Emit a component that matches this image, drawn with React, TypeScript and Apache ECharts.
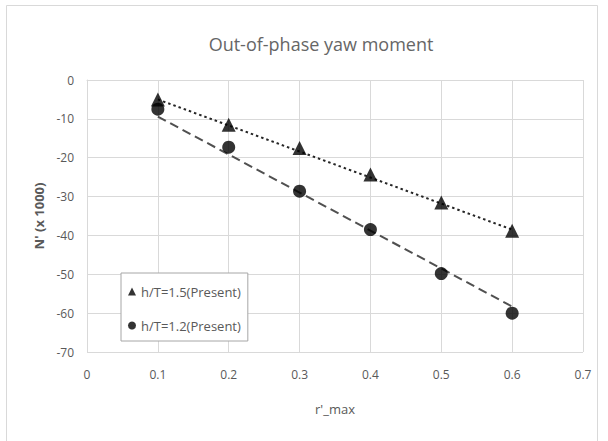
import React, { useEffect, useRef } from "react";
import * as echarts from "echarts";

const xValues = [0.1, 0.2, 0.3, 0.4, 0.5, 0.6];
const seriesA = [-5, -11.5, -17.5, -24.3, -31.5, -38.8]; // h/T=1.5
const seriesB = [-7.5, -17.3, -28.6, -38.5, -49.8, -60]; // h/T=1.2
const trendAX = [0.1, 0.6];
const trendA = [-5, -38.5];
const trendBX = [0.1, 0.6];
const trendB = [-9.4, -58.3];
const nameA = "h/T=1.5(Present)";
const nameB = "h/T=1.2(Present)";

const FONT = "'Open Sans', 'Noto Sans', sans-serif";
const GRAY = "#595959";

export default function App() {
  const ref = useRef<HTMLDivElement>(null);
  useEffect(() => {
    const chart = echarts.init(ref.current!, undefined, { renderer: "svg" });
    chart.setOption({
      animation: false,
      backgroundColor: "#fff",
      textStyle: { fontFamily: FONT },
      title: {
        text: "Out-of-phase yaw moment",
        left: 316,
        top: 30,
        textAlign: "center",
        textStyle: { fontFamily: FONT, fontSize: 18, fontWeight: "normal", color: "#666" },
      },
      graphic: [
        {
          type: "rect",
          shape: { x: 6.5, y: 5.5, width: 591, height: 440 },
          style: { fill: "none", stroke: "#d9d9d9", lineWidth: 1 },
          silent: true,
          z: -1,
        },
      ],
      grid: { left: 87, top: 80, right: 25, bottom: 89 },
      legend: {
        orient: "vertical",
        left: 121,
        top: 273,
        data: [
          { name: nameA, icon: "triangle" },
          { name: nameB, icon: "circle" },
        ],
        itemWidth: 8,
        itemHeight: 8,
        itemGap: 21,
        padding: [12, 7, 9, 7],
        borderColor: "#a6a6a6",
        borderWidth: 1,
        backgroundColor: "#fff",
        textStyle: { fontFamily: FONT, fontSize: 13, color: GRAY },
      },
      xAxis: {
        type: "value",
        min: 0,
        max: 0.7,
        interval: 0.1,
        name: "r'_max",
        nameLocation: "middle",
        nameGap: 50,
        nameTextStyle: { fontFamily: FONT, fontSize: 13, color: GRAY },
        axisLine: { show: true, lineStyle: { color: "#d9d9d9" } },
        axisTick: { show: false },
        axisLabel: { color: GRAY, fontSize: 12, margin: 16, fontFamily: FONT },
        splitLine: { show: true, lineStyle: { color: "#d9d9d9" } },
      },
      yAxis: {
        type: "value",
        min: -70,
        max: 0,
        interval: 10,
        name: "N' (x 1000)",
        nameLocation: "middle",
        nameGap: 32,
        nameTextStyle: { fontFamily: FONT, fontSize: 13, fontWeight: "bold", color: GRAY },
        axisLine: { show: true, lineStyle: { color: "#d9d9d9" } },
        axisTick: { show: false },
        axisLabel: { color: GRAY, fontSize: 12, margin: 13, fontFamily: FONT },
        splitLine: { show: true, lineStyle: { color: "#d9d9d9" } },
      },
      series: [
        {
          name: "trendA",
          type: "line",
          data: trendAX.map((x, i) => [x, trendA[i]]),
          symbol: "none",
          lineStyle: { color: "#262626", width: 2, type: [2.5, 3] },
          silent: true,
          z: 1,
        },
        {
          name: "trendB",
          type: "line",
          data: trendBX.map((x, i) => [x, trendB[i]]),
          symbol: "none",
          lineStyle: { color: "#505050", width: 2, type: [9, 5] },
          silent: true,
          z: 1,
        },
        {
          name: nameA,
          type: "scatter",
          data: xValues.map((x, i) => [x, seriesA[i]]),
          symbol: "triangle",
          symbolSize: 14,
          itemStyle: { color: "#000" },
          z: 3,
        },
        {
          name: nameB,
          type: "scatter",
          data: xValues.map((x, i) => [x, seriesB[i]]),
          symbol: "circle",
          symbolSize: 13,
          itemStyle: { color: "#000" },
          z: 2,
        },
      ],
    });
    return () => chart.dispose();
  }, []);
  return <div ref={ref} style={{ width: 608, height: 441, position: "fixed", left: 0, top: 0 }} />;
}
